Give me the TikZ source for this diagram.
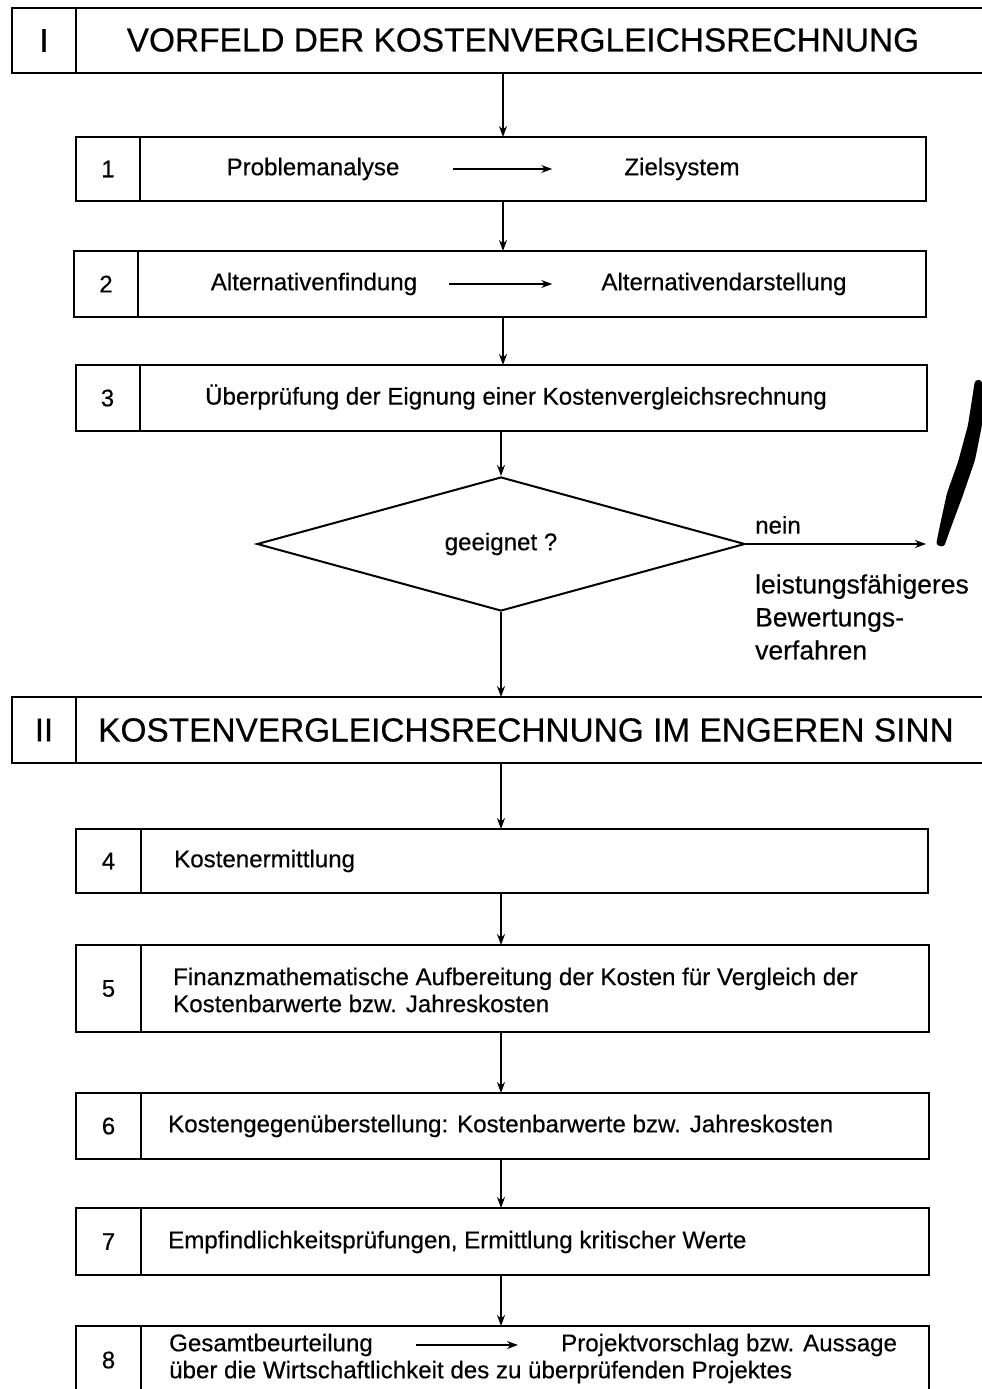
\documentclass[tikz,border=0pt]{standalone}
\usepackage{fontspec}
\setmainfont{Liberation Sans}[FakeBold=0.4]
\usetikzlibrary{shapes.geometric,arrows.meta,positioning}

\begin{document}
\begin{tikzpicture}[x=1pt,y=-1pt,>={Stealth[length=11pt,width=8pt]},
  cell/.style = {draw, line width=2pt, rectangle, inner sep=0pt, outer sep=0pt, minimum height=#1},
  numcell/.style = {cell=#1, minimum width=64pt, font=\fontsize{24}{28}\selectfont},
  txt/.style = {inner sep=0pt, font=\fontsize{24.1}{27}\selectfont},
  head/.style = {inner sep=0pt, font=\fontsize{33.4}{38}\selectfont},
  flow/.style = {->, line width=1.4pt}]
\useasboundingbox (0,0) rectangle (982,1389);
\clip (0,0) rectangle (982,1389);
\coordinate (up) at (503,0);
\coordinate (lo) at (501,0);
% part I
\node (nI) at (44,40.5)[numcell=65pt, font=\fontsize{33}{38}\selectfont] {I};
\node (hI) at (nI.east)[cell=65pt, minimum width=940pt, anchor=west] {};
\node (hIt) at (523,40)[head] {VORFELD DER KOSTENVERGLEICHSRECHNUNG};
\node (n1) at (108,169)[numcell=64pt] {1};
\node (t1) at (n1.east)[cell=64pt, minimum width=786pt, anchor=west] {};
\node (p1) at (313,169)[txt] {Problemanalyse};
\node (z1) at (682,169)[txt] {Zielsystem};
\node (n2) at (106,284)[numcell=66pt] {2};
\node (t2) at (n2.east)[cell=66pt, minimum width=788pt, anchor=west] {};
\node (p2) at (314,284)[txt] {Alternativenfindung};
\node (z2) at (724,284)[txt] {Alternativendarstellung};
\node (n3) at (107.5,398)[numcell=66pt] {3};
\node (t3) at (n3.east)[cell=66pt, minimum width=787pt, anchor=west] {};
\node (p3) at (516,397)[txt] {Überprüfung der Eignung einer Kostenvergleichsrechnung};
\node (q) at (501,544)[diamond, draw, line width=2pt, inner sep=0pt, shape aspect=3.6,
  minimum width=488pt, minimum height=134pt, txt] {geeignet ?};
\coordinate (pen) at (926,544);
\node (nein) at (755,525)[txt, anchor=west] {nein};
\node (alt) at (755,617)[inner sep=0pt, anchor=west, align=left,
  font=\fontsize{26.5}{33}\selectfont] {leistungsfähigeres\\Bewertungs-\\verfahren};
% part II
\node (nII) at (44,730)[numcell=66pt, font=\fontsize{33}{38}\selectfont] {II};
\node (hII) at (nII.east)[cell=66pt, minimum width=940pt, anchor=west] {};
\node (hIIt) at (526,730)[head] {KOSTENVERGLEICHSRECHNUNG IM ENGEREN SINN};
\node (n4) at (108.5,861)[numcell=64pt, minimum width=65pt] {4};
\node (t4) at (n4.east)[cell=64pt, minimum width=787pt, anchor=west] {};
\node (p4) at (174,861)[txt, anchor=west] {Kostenermittlung};
\node (n5) at (108.5,988.5)[numcell=87pt, minimum width=65pt] {5};
\node (t5) at (n5.east)[cell=87pt, minimum width=788pt, anchor=west] {};
\node (p5) at (173,990)[txt, anchor=west, align=left] {Finanzmathematische Aufbereitung der Kosten für Vergleich der\\Kostenbarwerte bzw. Jahreskosten};
\node (n6) at (108.5,1126)[numcell=66pt, minimum width=65pt] {6};
\node (t6) at (n6.east)[cell=66pt, minimum width=788pt, anchor=west] {};
\node (p6) at (168,1126)[txt, anchor=west] {Kostengegenüberstellung: Kostenbarwerte bzw. Jahreskosten};
\node (n7) at (108.5,1241.5)[numcell=67pt, minimum width=65pt] {7};
\node (t7) at (n7.east)[cell=67pt, minimum width=788pt, anchor=west] {};
\node (p7) at (168,1242)[txt, anchor=west] {Empfindlichkeitsprüfungen, Ermittlung kritischer Werte};
\node (n8) at (108.5,1360)[numcell=68pt, minimum width=65pt] {8};
\node (t8) at (n8.east)[cell=68pt, minimum width=788pt, anchor=west] {};
\node (p8) at (169,1345)[txt, anchor=west] {Gesamtbeurteilung};
\node (z8) at (561,1345)[txt, anchor=west] {Projektvorschlag bzw. Aussage};
\node (w8) at (169,1372)[txt, anchor=west] {über die Wirtschaftlichkeit des zu überprüfenden Projektes};
% connectors
\draw[flow] (hI.south -| up)--(t1.north -| up);
\draw[flow] (t1.south -| up)--(t2.north -| up);
\draw[flow] (t2.south -| up)--(t3.north -| up);
\draw[flow] (t3.south -| q.north)--(q.north);
\draw[flow] (q.south)--(hII.north -| q.south);
\draw[flow] (q.east)--(pen);
\draw[flow] (hII.south -| lo)--(t4.north -| lo);
\draw[flow] (t4.south -| lo)--(t5.north -| lo);
\draw[flow] (t5.south -| lo)--(t6.north -| lo);
\draw[flow] (t6.south -| lo)--(t7.north -| lo);
\draw[flow] (t7.south -| lo)--(t8.north -| lo);
\draw[flow] ([xshift=53pt]p1.east)--([xshift=-72pt]z1.west);
\draw[flow] ([xshift=32pt]p2.east)--([xshift=-49pt]z2.west);
\draw[flow] ([xshift=43pt]p8.east)--([xshift=-43pt]z8.west);
% pen stroke
\fill[rounded corners=3pt] (975,380)--(982,380)--(982,425)--(975,460)--(963,495)--(950,530)
  --(944,547)--(936,545)--(940,525)--(947,493)--(958,462)--(968,425)--cycle;
\end{tikzpicture}
\end{document}
